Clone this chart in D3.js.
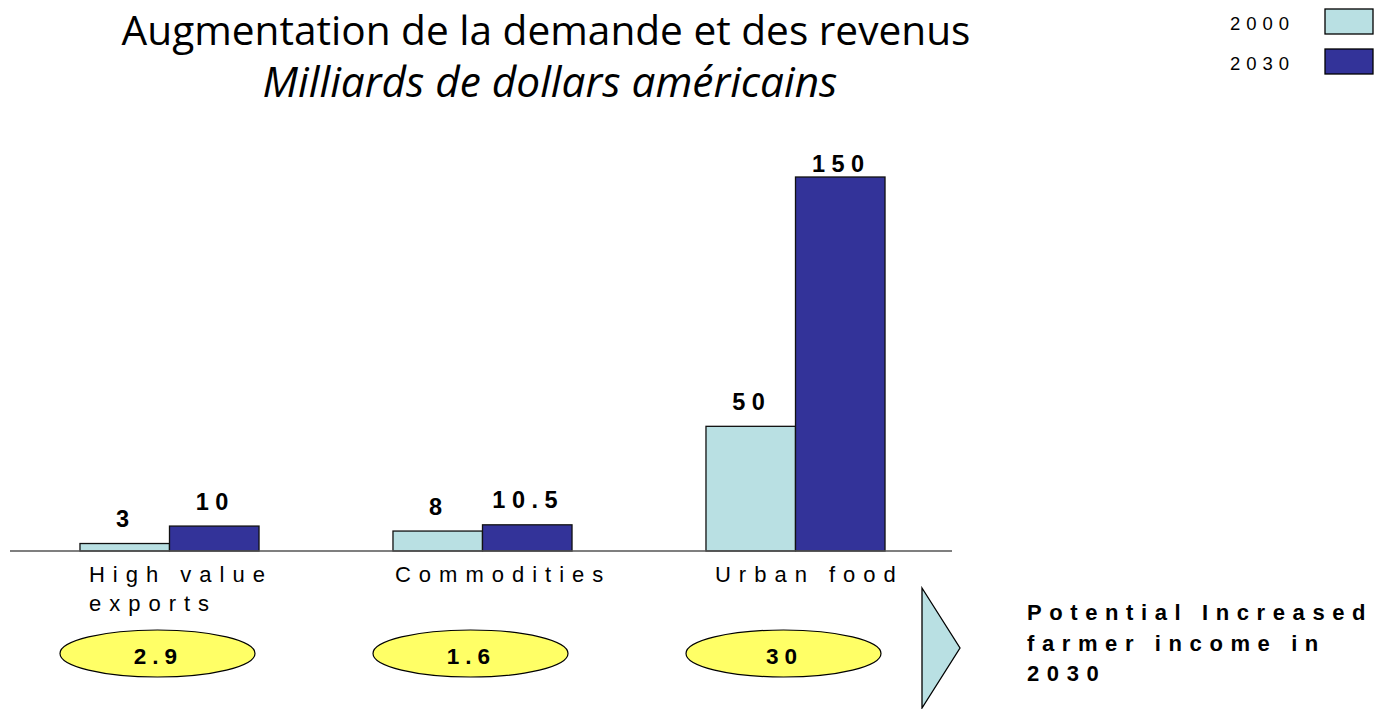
<!DOCTYPE html>
<html>
<head>
<meta charset="utf-8">
<script src="https://cdn.jsdelivr.net/npm/d3@7"></script>
<style>
  html, body { margin: 0; padding: 0; background: #fff; }
  svg { display: block; }
</style>
</head>
<body>
<svg id="chart" width="1377" height="709"></svg>
<script>
// Categories and series values (billions of US dollars)
const categories = ["High value exports", "Commodities", "Urban food"];
const categoryLines = [["High value", "exports"], ["Commodities"], ["Urban food"]];
const seriesNames = ["2000", "2030"];
const values2000 = [3, 8, 50];
const values2030 = [10, 10.5, 150];
const valueLabels2000 = ["3", "8", "50"];
const valueLabels2030 = ["10", "10.5", "150"];
// Potential increased farmer income in 2030
const incomeLabels = ["2.9", "1.6", "30"];

const colors = { "2000": "#B9E0E3", "2030": "#333399" };
const yellow = "#FFFF66";
const sans = "'Liberation Sans', Arial, sans-serif";
const titleFont = "'Open Sans', 'Liberation Sans', sans-serif";

const svg = d3.select("#chart");

const baseline = 551;
const x0 = d3.scaleBand().domain(categories).range([13, 952]).paddingInner(0.428).paddingOuter(0.214);
const x1 = d3.scaleBand().domain(seriesNames).range([0, x0.bandwidth()]);
const y = d3.scaleLinear().domain([0, 150]).range([baseline, 177]);

// Title, fitted to its width
function fitText(sel, width) {
  const w = sel.node().getComputedTextLength();
  const fs = parseFloat(sel.attr("font-size"));
  sel.attr("font-size", fs * width / w);
}
const t1 = svg.append("text").attr("x", 546).attr("y", 45).attr("text-anchor", "middle")
  .attr("font-family", titleFont).attr("font-size", 38).attr("fill", "#000")
  .text("Augmentation de la demande et des revenus");
fitText(t1, 849);
const t2 = svg.append("text").attr("x", 550).attr("y", 97).attr("text-anchor", "middle")
  .attr("font-family", titleFont).attr("font-style", "italic").attr("font-size", 38).attr("fill", "#000")
  .text("Milliards de dollars américains");
fitText(t2, 575);

// Legend
const legend = svg.append("g");
seriesNames.forEach((s, i) => {
  const ly = 9 + i * 40;
  legend.append("rect").attr("x", 1325).attr("y", ly).attr("width", 48).attr("height", 25)
    .attr("fill", colors[s]).attr("stroke", "#000").attr("stroke-width", 1.3);
  legend.append("text").attr("x", 1230).attr("y", ly + 21)
    .attr("font-family", sans).attr("font-size", 18.5).attr("letter-spacing", 6)
    .text(s);
});

// Bars
const rows = categories.map((c, i) => ({
  cat: c,
  bars: [
    { s: "2000", v: values2000[i], label: valueLabels2000[i] },
    { s: "2030", v: values2030[i], label: valueLabels2030[i] }
  ]
}));

const groups = svg.append("g").selectAll("g").data(rows).join("g")
  .attr("transform", d => `translate(${x0(d.cat)},0)`);

groups.selectAll("rect").data(d => d.bars).join("rect")
  .attr("x", d => x1(d.s))
  .attr("y", d => y(d.v))
  .attr("width", x1.bandwidth())
  .attr("height", d => baseline - y(d.v))
  .attr("fill", d => colors[d.s])
  .attr("stroke", "#111").attr("stroke-width", 1.3);

groups.selectAll("text.val").data(d => d.bars).join("text").attr("class", "val")
  .attr("x", d => x1(d.s) + x1.bandwidth() / 2 + 1)
  .attr("y", d => Math.max(y(d.v) - 16.5, 172))
  .attr("text-anchor", "middle")
  .attr("font-family", sans).attr("font-weight", "bold").attr("font-size", 23.5)
  .attr("letter-spacing", 6.5)
  .text(d => d.label);

// Baseline axis
svg.append("line").attr("x1", 10).attr("x2", 952).attr("y1", baseline).attr("y2", baseline)
  .attr("stroke", "#555").attr("stroke-width", 1.3);

// Category labels
categories.forEach((c, i) => {
  const t = svg.append("text")
    .attr("font-family", sans).attr("font-size", 22).attr("letter-spacing", 8).attr("fill", "#000");
  categoryLines[i].forEach((line, j) => {
    t.append("tspan").attr("x", x0(c) + (i === 1 ? 2 : 9)).attr("y", 582 + j * 29).text(line);
  });
});

// Income ellipses
categories.forEach((c, i) => {
  const cx = x0(c) + x0.bandwidth() / 2 - 12;
  svg.append("ellipse").attr("cx", cx).attr("cy", 653.5).attr("rx", 97.5).attr("ry", 23.5)
    .attr("fill", yellow).attr("stroke", "#000").attr("stroke-width", 1.2);
  svg.append("text").attr("x", cx + 1).attr("y", 664).attr("text-anchor", "middle")
    .attr("font-family", sans).attr("font-weight", "bold").attr("font-size", 22.5)
    .attr("letter-spacing", 6).text(incomeLabels[i]);
});

// Arrow marker and note
svg.append("path").attr("d", "M922,588 L960,648 L922,708 Z")
  .attr("fill", colors["2000"]).attr("stroke", "#000").attr("stroke-width", 1.3);
const note = svg.append("text").attr("font-family", sans).attr("font-weight", "bold")
  .attr("font-size", 22).attr("letter-spacing", 7.6);
["Potential Increased", "farmer income in", "2030"].forEach((line, j) => {
  note.append("tspan").attr("x", 1027).attr("y", 620 + j * 30.5).text(line);
});
</script>
</body>
</html>
